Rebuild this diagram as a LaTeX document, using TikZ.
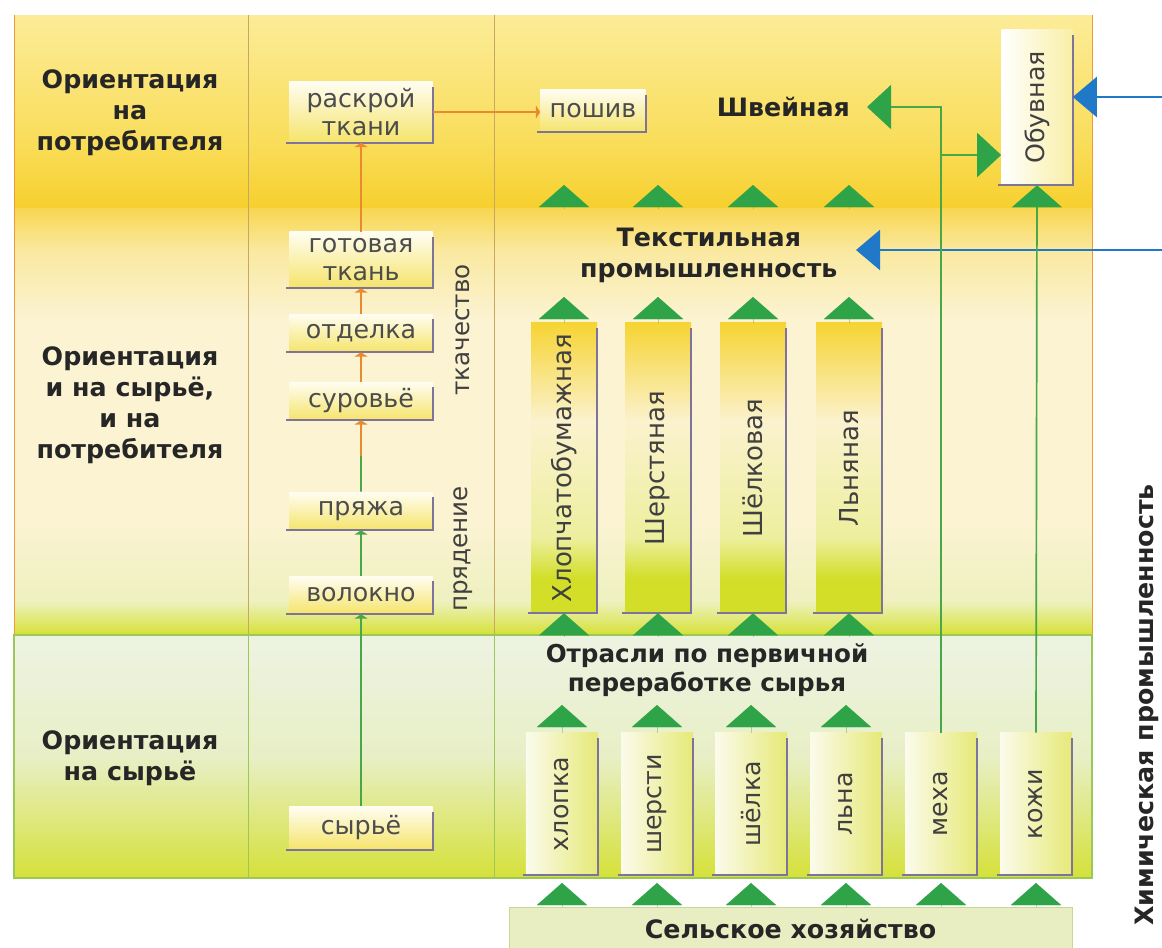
\documentclass[tikz,border=0pt]{standalone}
\usepackage{fontspec}
\setmainfont{DejaVu Sans}
\usepackage{graphicx}
\usetikzlibrary{arrows.meta,calc}

\definecolor{rOneTop}{HTML}{FCEC98}
\definecolor{rOneMid}{HTML}{F9DD5A}
\definecolor{rOneBot}{HTML}{F7D02E}
\definecolor{rTwoTop}{HTML}{F8D650}
\definecolor{rTwoUp}{HTML}{FAE9A0}
\definecolor{rTwoMid}{HTML}{FBF3D2}
\definecolor{rTwoLow}{HTML}{EEF1C0}
\definecolor{rTwoBot}{HTML}{D5E136}
\definecolor{rThrTop}{HTML}{EDF3E2}
\definecolor{rThrMid}{HTML}{E8EFC6}
\definecolor{rThrBot}{HTML}{D5E139}
\definecolor{barTop}{HTML}{F6D433}
\definecolor{barMid}{HTML}{FBF2CE}
\definecolor{barLow}{HTML}{EDEF9E}
\definecolor{barBot}{HTML}{D2DE28}
\definecolor{boxTop}{HTML}{FFFDF2}
\definecolor{boxBot}{HTML}{F5E46A}
\definecolor{rawLeft}{HTML}{FBFBEC}
\definecolor{rawRight}{HTML}{E6E977}
\definecolor{edgeGray}{HTML}{7E7398}
\definecolor{triGreen}{HTML}{2FA347}
\definecolor{lineGreen}{HTML}{48A848}
\definecolor{flowOrange}{HTML}{E98A2E}
\definecolor{chemBlue}{HTML}{1F78C8}
\definecolor{frameOrange}{HTML}{EE9A3A}
\definecolor{frameGreen}{HTML}{9CC85A}
\definecolor{sepBrown}{HTML}{C8A860}
\definecolor{farmFill}{HTML}{E8EEC2}
\definecolor{farmLine}{HTML}{C4DA8E}

\pgfdeclareverticalshading{rowone}{100bp}{color(0bp)=(rOneBot); color(25bp)=(rOneBot); color(42bp)=(rOneMid); color(75bp)=(rOneTop); color(100bp)=(rOneTop)}
\pgfdeclareverticalshading{rowtwo}{100bp}{color(0bp)=(rTwoBot); color(25bp)=(rTwoBot); color(29bp)=(rTwoLow); color(38bp)=(rTwoMid); color(62bp)=(rTwoMid); color(70bp)=(rTwoUp); color(75bp)=(rTwoTop); color(100bp)=(rTwoTop)}
\pgfdeclareverticalshading{rowthree}{100bp}{color(0bp)=(rThrBot); color(25bp)=(rThrBot); color(50bp)=(rThrMid); color(75bp)=(rThrTop); color(100bp)=(rThrTop)}
\pgfdeclareverticalshading{barshade}{100bp}{color(0bp)=(barBot); color(25bp)=(barBot); color(31bp)=(barBot); color(38bp)=(barLow); color(58bp)=(barMid); color(75bp)=(barTop); color(100bp)=(barTop)}

\begin{document}
\begin{tikzpicture}[x=0.025cm, y=-0.025cm,
    hdr/.style={font=\bfseries\fontsize{18}{22}\selectfont, align=center, text=black!85, inner sep=2pt},
    stagebox/.style={top color=boxTop, bottom color=boxBot, minimum width=3.575cm, minimum height=0.95cm, inner sep=1pt, align=center, text=black!70, font=\fontsize{18}{20}\selectfont},
    barbox/.style={shade, shading=barshade, minimum width=1.65cm, minimum height=7.25cm, inner sep=0pt, text=black!75, font=\fontsize{18.5}{20}\selectfont},
    rawbox/.style={left color=rawLeft, right color=rawRight, minimum width=1.8cm, minimum height=3.55cm, inner sep=0pt, text=black!75, font=\fontsize{18}{20}\selectfont},
    boxedge/.style={draw=edgeGray, line width=1.4pt},
    flow/.style={draw=flowOrange, line width=1.2pt, -{Triangle[length=3pt, width=9pt]}},
    flowgreen/.style={draw=lineGreen, line width=1.2pt, -{Triangle[length=3pt, width=9pt]}},
    feed/.style={draw=lineGreen, line width=1.2pt},
    bigtip/.style={-{Triangle[length=0.6cm, width=1.1cm, color=triGreen]}},
    tri/.style={draw=triGreen, line width=0.01pt, -{Triangle[length=0.55cm, width=1.25cm, color=triGreen]}},
    chem/.style={draw=chemBlue, line width=1.6pt, -{Triangle[length=0.6cm, width=1.0cm]}},
    sideword/.style={rotate=90, text=black!75, font=\fontsize{17.5}{20}\selectfont}]

    \useasboundingbox (0,0) rectangle (1162,947);
    \fill[white] (0,0) rectangle (1162,947);

    % Rows of the table
    \shade[shading=rowone] (14,15) rectangle (1092,208);
    \shade[shading=rowtwo] (14,208) rectangle (1092,635);
    \shade[shading=rowthree] (14,635) rectangle (1092,878);
    \draw[sepBrown, line width=0.6pt] (248,15) -- (248,635) (494,15) -- (494,635);
    \draw[frameGreen, line width=0.6pt] (248,635) -- (248,878) (494,635) -- (494,878);
    \draw[frameOrange, line width=0.7pt] (14,635) -- (14,15) (1092,15) -- (1092,635);
    \draw[frameGreen, line width=0.8pt] (14,635) rectangle (1092,878);

    % Row headings
    \node[hdr] (hdrCons) at (130,113) {Ориентация\\на\\потребителя};
    \node[hdr] (hdrBoth) at (130,405) {Ориентация\\и на сырьё,\\и на\\потребителя};
    \node[hdr] (hdrRaw) at (130,758) {Ориентация\\на сырьё};

    % Stages of production
    \node[stagebox, minimum height=1.525cm] (raskroy) at (361,112) {раскрой\\ткани};
    \node[stagebox, minimum height=1.4cm] (gotovaya) at (361,260) {готовая\\ткань};
    \node[stagebox] (otdelka) at (361,333) {отделка};
    \node[stagebox] (surovye) at (361,401) {суровьё};
    \node[stagebox] (prjazha) at (361,511) {пряжа};
    \node[stagebox] (volokno) at (361,595) {волокно};
    \node[stagebox, minimum height=1.075cm] (syrye) at (361,828) {сырьё};
    \node[stagebox, minimum width=2.625cm, minimum height=1.05cm] (poshiv) at (593,111) {пошив};
    \node[sideword] (tkach) at (463,330) {ткачество};
    \node[sideword] (prjad) at (463,549) {прядение};

    % Branches
    \node[hdr, anchor=east, inner xsep=12pt] (shveinaya) at (867,107) {Швейная};
    \node[hdr, anchor=east, inner xsep=13pt] (tekstil) at (856,255) {Текстильная\\промышленность};
    \node[hdr, font=\bfseries\fontsize{17.5}{21}\selectfont] (otrasli) at (707,670) {Отрасли по первичной\\переработке сырья};
    \node[left color=white, right color=boxBot!60, minimum width=1.775cm, minimum height=3.875cm, inner sep=0pt, text=black!75, font=\fontsize{18}{20}\selectfont] (obuvnaya) at (1037,107.5) {\rotatebox{90}{Обувная}};

    \foreach \name/\x/\txt in {hlopBar/564/Хлопчатобумажная, sherstBar/658/Шерстяная, shelkBar/753/Шёлковая, lnBar/849/Льняная}
        \node[barbox] (\name) at (\x,468) {\rotatebox{90}{\txt}};

    \foreach \name/\x/\txt in {hlopka/562/хлопка, shersti/657/шерсти, shelka/751/шёлка, lna/846/льна, meha/941/меха, kozhi/1036/кожи}
        \node[rawbox] (\name) at (\x,804) {\rotatebox{90}{\txt}};

    \node[fill=farmFill, draw=farmLine, minimum width=14.075cm, minimum height=1.1cm, hdr] (farm) at (790.5,929) {Сельское хозяйство};
    \node[hdr, rotate=90] (chem) at (1147,705) {Химическая промышленность};

    % Shadow edges of boxes
    \foreach \n in {raskroy, gotovaya, otdelka, surovye, prjazha, volokno, syrye, poshiv, obuvnaya, hlopBar, sherstBar, shelkBar, lnBar, hlopka, shersti, shelka, lna, meha, kozhi}
        \draw[boxedge] ([yshift=-4pt]\n.north east) -- (\n.south east) -- ([xshift=-2pt]\n.south west);

    % Chain of stages
    \coordinate (mix) at ($(prjazha.north)!0.5!(surovye.south)$);
    \draw[flowgreen] (syrye.north) -- (volokno.south);
    \draw[flowgreen] (volokno.north) -- (prjazha.south);
    \draw[feed] (prjazha.north) -- (mix);
    \draw[flow] (mix) -- (surovye.south);
    \draw[flow] (surovye.north) -- (otdelka.south);
    \draw[flow] (otdelka.north) -- (gotovaya.south);
    \draw[flow] (gotovaya.north) -- (raskroy.south);
    \draw[flow] (raskroy.east) -- (raskroy.east -| poshiv.west);

    % Green triangles between levels
    \coordinate (rowA) at (0,185);
    \coordinate (rowAfoot) at (0,209);
    \coordinate (rowB) at (0,297);
    \coordinate (rowCfoot) at (0,637);
    \coordinate (rowD) at (0,705);
    \coordinate (rowE) at (0,883);
    \foreach \name in {hlopBar, sherstBar, shelkBar, lnBar} {
        \draw[tri] (\name.north |- rowAfoot) -- (\name.north |- rowA);
        \draw[tri] (\name.north) -- (\name.north |- rowB);
        \draw[tri] (\name.south |- rowCfoot) -- (\name.south);
    }
    \foreach \name in {hlopka, shersti, shelka, lna}
        \draw[tri] (\name.north) -- (\name.north |- rowD);
    \foreach \name in {hlopka, shersti, shelka, lna, meha, kozhi}
        \draw[tri] (\name.south |- farm.north) -- (\name.south |- rowE);

    % Chemical industry
    \coordinate (chemA) at (1162,97);
    \coordinate (chemB) at (1162,250);
    \draw[chem] (chemA) -- (chemA -| obuvnaya.east);
    \draw[chem] (chemB) -- (chemB -| tekstil.east);

    % Fur and leather
    \coordinate (split) at (941,155);
    \draw[feed, bigtip] (meha.north) |- (shveinaya.east);
    \draw[feed, bigtip] (split) -- (split -| obuvnaya.west);
    \draw[feed, -{Triangle[length=0.55cm, width=1.25cm, color=triGreen]}] (kozhi.north) -- (obuvnaya.south);
\end{tikzpicture}
\end{document}
